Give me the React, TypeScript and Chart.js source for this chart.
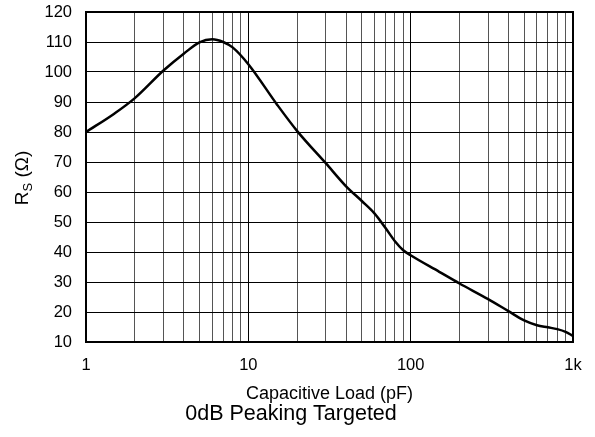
import React, { useEffect, useRef } from "react";
import { Chart, registerables } from "chart.js";

Chart.register(...registerables);

const capLoad = [1, 1.5, 2, 3, 4, 5, 6, 7, 8, 10, 15, 20, 30, 40, 50, 60, 70, 80, 90, 100, 150, 200, 300, 400, 500, 600, 700, 800, 900, 1000];
const rsValues = [80, 86.2, 91.3, 100.5, 106.1, 109.9, 110.9, 110.0, 108.2, 102.6, 89.2, 80.3, 69.6, 61.9, 57, 52.8, 48, 43.6, 40.6, 38.9, 33.4, 29.5, 24.3, 20.3, 17.2, 15.6, 14.9, 14.3, 13.4, 12];

const xMajorTicks = [1, 10, 100, 1000];
const xTickLabels = ["1", "10", "100", "1k"];
const yMin = 10;
const yMax = 120;
const yStep = 10;

const xTitle = "Capacitive Load (pF)";
const yTitleMain = "R";
const yTitleSub = "S";
const yTitleRest = " (Ω)";
const caption = "0dB Peaking Targeted";

const FONT = "'Liberation Sans', Arial, Helvetica, sans-serif";

function buildLogTicks(): number[] {
  const out: number[] = [];
  for (let d = 0; d < xMajorTicks.length - 1; d++) {
    const base = xMajorTicks[d];
    for (let m = 1; m < 10; m++) out.push(base * m);
  }
  out.push(xMajorTicks[xMajorTicks.length - 1]);
  return out;
}

const textPlugin = {
  id: "textPlugin",
  afterDraw(chart: any) {
    const ctx = chart.ctx;
    const a = chart.chartArea;
    ctx.save();
    ctx.strokeStyle = "#000";
    ctx.lineWidth = 2;
    ctx.strokeRect(a.left, a.top, a.right - a.left, a.bottom - a.top);
    ctx.fillStyle = "#000";
    ctx.font = `18px ${FONT}`;
    ctx.textAlign = "center";
    ctx.textBaseline = "middle";
    ctx.fillText(xTitle, (a.left + a.right) / 2, 394);
    ctx.font = `21.5px ${FONT}`;
    ctx.fillText(caption, 291, 414);
    ctx.translate(22, 178);
    ctx.rotate(-Math.PI / 2);
    const mainFont = `19px ${FONT}`;
    const subFont = `13px ${FONT}`;
    ctx.font = mainFont;
    const wR = ctx.measureText(yTitleMain).width;
    const wRest = ctx.measureText(yTitleRest).width;
    ctx.font = subFont;
    const wS = ctx.measureText(yTitleSub).width;
    const total = wR + wS + wRest;
    let x = -total / 2;
    ctx.textAlign = "left";
    ctx.textBaseline = "alphabetic";
    const base = 6;
    ctx.font = mainFont;
    ctx.fillText(yTitleMain, x, base);
    x += wR;
    ctx.font = subFont;
    ctx.fillText(yTitleSub, x, base + 4);
    x += wS;
    ctx.font = mainFont;
    ctx.fillText(yTitleRest, x, base);
    ctx.restore();
  },
};

export default function App() {
  const canvasRef = useRef<HTMLCanvasElement | null>(null);

  useEffect(() => {
    if (!canvasRef.current) return;
    const chart = new Chart(canvasRef.current, {
      type: "line",
      data: {
        datasets: [
          {
            data: capLoad.map((c, i) => ({ x: c, y: rsValues[i] })),
            borderColor: "#000",
            borderWidth: 2.5,
            pointRadius: 0,
            cubicInterpolationMode: "monotone",
            fill: false,
          },
        ],
      },
      options: {
        animation: false,
        responsive: false,
        devicePixelRatio: 1,
        layout: { padding: { left: 0, top: 12, right: 22, bottom: 0 } },
        plugins: {
          legend: { display: false },
          tooltip: { enabled: false },
          title: { display: false },
        },
        scales: {
          x: {
            type: "logarithmic",
            min: 1,
            max: 1000,
            afterBuildTicks: (scale: any) => {
              scale.ticks = buildLogTicks().map((v) => ({ value: v }));
            },
            afterFit: (scale: any) => {
              scale.height = 95;
              scale.paddingLeft = 0;
              scale.paddingRight = 0;
              scale.paddingTop = 0;
              scale.paddingBottom = 0;
            },
            ticks: {
              autoSkip: false,
              maxRotation: 0,
              padding: 14,
              color: "#000",
              font: { family: FONT, size: 16.5 },
              callback: (v: any) => {
                const idx = xMajorTicks.indexOf(Number(v));
                return idx >= 0 ? xTickLabels[idx] : "";
              },
            },
            grid: {
              drawTicks: false,
              lineWidth: 1,
              color: (ctx: any) => {
                const v = ctx.tick ? ctx.tick.value : 0;
                return xMajorTicks.indexOf(v) >= 0 ? "#000" : "#555";
              },
            },
            border: { display: false },
          },
          y: {
            type: "linear",
            min: yMin,
            max: yMax,
            afterFit: (scale: any) => {
              scale.width = 86;
              scale.paddingTop = 0;
              scale.paddingBottom = 0;
              scale.paddingLeft = 0;
              scale.paddingRight = 0;
            },
            ticks: {
              stepSize: yStep,
              padding: 14,
              color: "#000",
              font: { family: FONT, size: 16.5 },
            },
            grid: {
              drawTicks: false,
              lineWidth: 1,
              color: "#000",
            },
            border: { display: false },
          },
        },
      },
      plugins: [textPlugin],
    } as any);
    return () => chart.destroy();
  }, []);

  return (
    <div style={{ position: "fixed", left: 0, top: 0, width: 595, height: 437, background: "#fff" }}>
      <canvas ref={canvasRef} width={595} height={437} />
    </div>
  );
}
